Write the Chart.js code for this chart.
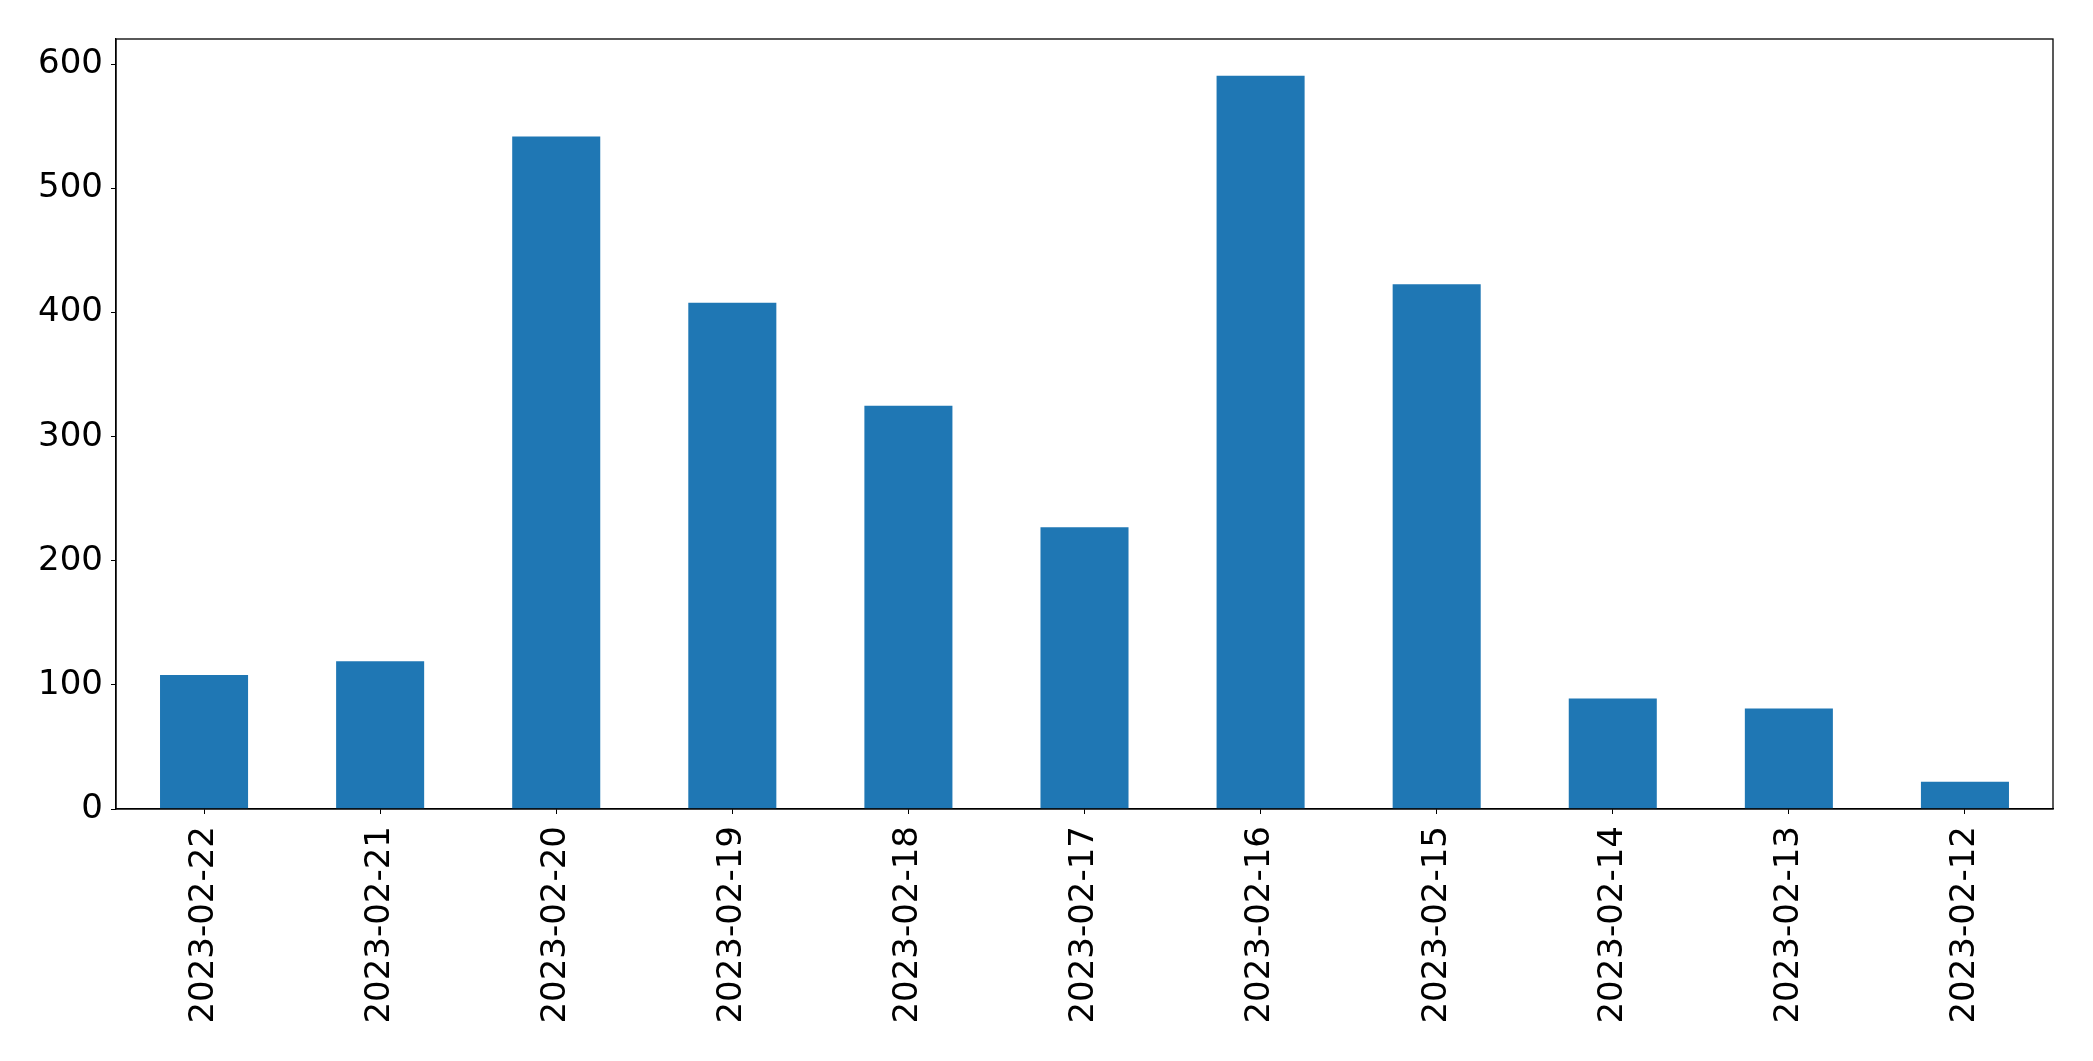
<!DOCTYPE html>
<html>
<head>
<meta charset="utf-8">
<title>Daily counts</title>
<script src="https://cdn.jsdelivr.net/npm/chart.js@4.4.1/dist/chart.umd.min.js"></script>
<style>
    html, body { margin: 0; padding: 0; background: #fff; }
    #wrap { width: 2093px; height: 1061px; position: relative; }
</style>
</head>
<body>
<div id="wrap"><canvas id="bar-chart"></canvas></div>
<script>
// data
var dates = ["2023-02-22", "2023-02-21", "2023-02-20", "2023-02-19", "2023-02-18", "2023-02-17",
             "2023-02-16", "2023-02-15", "2023-02-14", "2023-02-13", "2023-02-12"];
var counts = [108, 119, 542, 408, 325, 227, 591, 423, 89, 81, 22];
var yTicks = [0, 100, 200, 300, 400, 500, 600];

(function () {
    "use strict";

    var font = { family: "'DejaVu Sans', sans-serif", size: 34 };
    var yMax = Math.max.apply(null, counts) * 1.05;

    // top and right spines, matplotlib style box
    var frame = {
        id: "frame",
        afterDraw: function (chart) {
            var a = chart.chartArea;
            var c = chart.ctx;
            c.save();
            c.strokeStyle = "#000";
            c.lineWidth = 1.3;
            c.strokeRect(a.left, a.top, a.right - a.left, a.bottom - a.top);
            c.restore();
        }
    };

    var ctx = document.getElementById("bar-chart").getContext("2d");
    var myChart = new Chart(ctx, {
        type: "bar",
        data: {
            labels: dates,
            datasets: [
                {
                    data: counts,
                    backgroundColor: "#1f77b4",
                    barPercentage: 0.5,
                    categoryPercentage: 1.0,
                },
            ],
        },
        options: {
            responsive: true,
            maintainAspectRatio: false,
            animation: false,
            layout: { padding: { top: 39, right: 40, left: 0, bottom: 0 } },
            plugins: {
                legend: { display: false },
                tooltip: { enabled: false },
            },
            scales: {
                x: {
                    grid: { display: true, offset: false, drawOnChartArea: false, drawTicks: true, tickLength: 5, color: "#000" },
                    border: { display: true, color: "#000", width: 1.3 },
                    ticks: { color: "#000", font: font, minRotation: 90, maxRotation: 90, padding: 12, autoSkip: false },
                    afterFit: function (scale) { scale.height = 1061 - 809; },
                },
                y: {
                    min: 0,
                    max: yMax,
                    grid: { display: true, drawOnChartArea: false, drawTicks: true, tickLength: 5, color: "#000" },
                    border: { display: true, color: "#000", width: 1.3 },
                    afterBuildTicks: function (scale) {
                        scale.ticks = yTicks.map(function (v) { return { value: v }; });
                    },
                    ticks: { color: "#000", font: font, padding: 8 },
                    afterFit: function (scale) { scale.width = 116; },
                },
            },
        },
        plugins: [frame],
    });
})();
</script>
</body>
</html>
